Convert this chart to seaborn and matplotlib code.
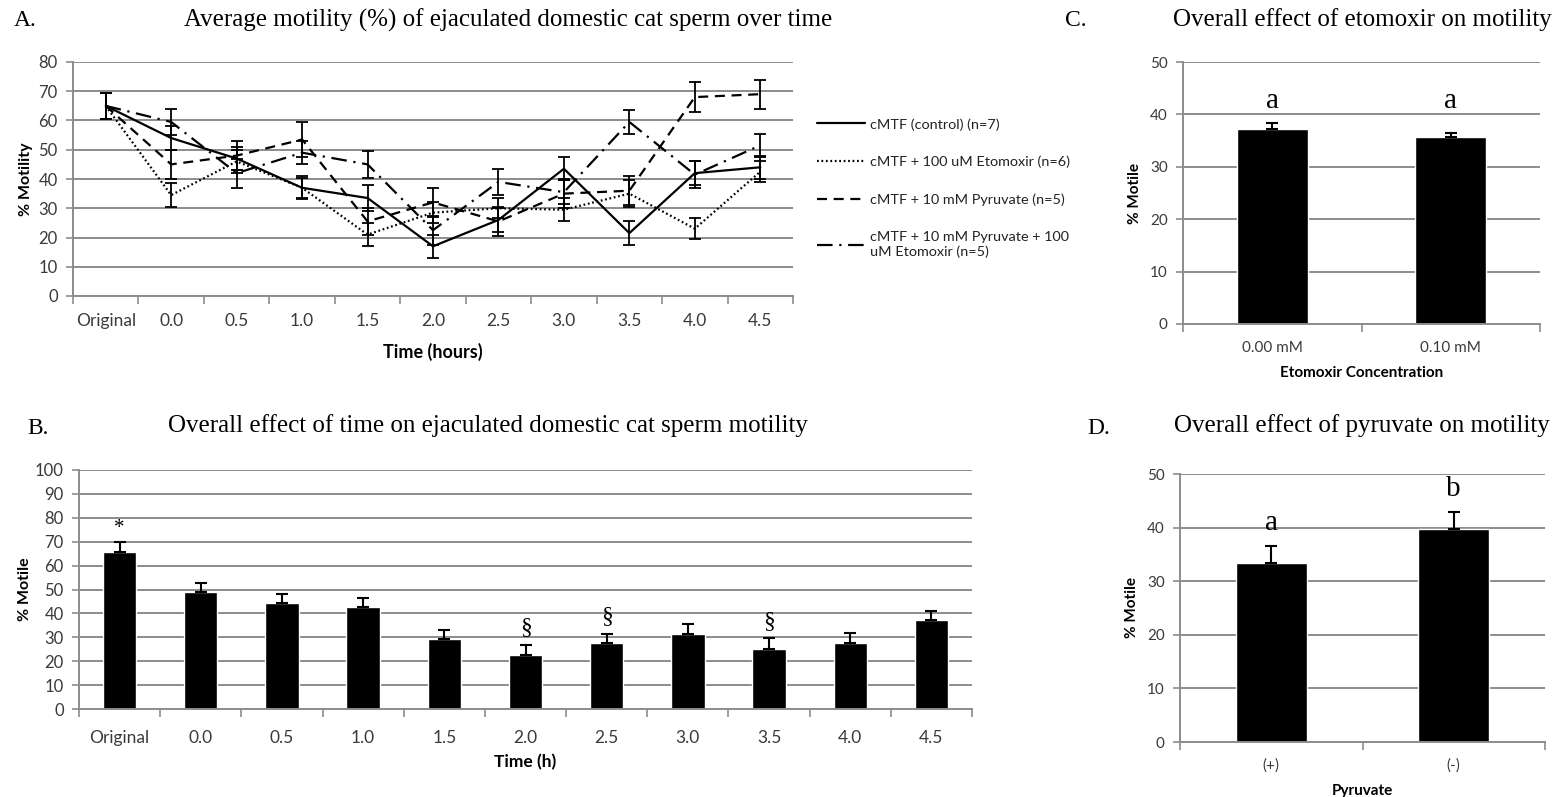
import numpy as np
import pandas as pd
import matplotlib
matplotlib.use("Agg")
import matplotlib.pyplot as plt
import seaborn as sns

# ---------------- data ----------------
time_cats = ["Original", "0.0", "0.5", "1.0", "1.5", "2.0", "2.5", "3.0", "3.5", "4.0", "4.5"]

series_names = ["cMTF (control) (n=7)",
                "cMTF + 100 uM Etomoxir (n=6)",
                "cMTF + 10 mM Pyruvate (n=5)",
                "cMTF + 10 mM Pyruvate + 100\nuM Etomoxir (n=5)"]
control_vals = [65, 54, 47, 37, 33.5, 17, 26, 43.5, 21.5, 42, 44]
control_err = [4.5, 4, 4, 4, 4.5, 4, 4, 4, 4, 4, 4]
eto_vals = [65, 34.5, 46, 37, 21, 28.5, 30, 29.5, 35, 23, 42.5]
eto_err = [4.5, 4, 4, 3.5, 4, 3.5, 3.5, 4, 4.5, 3.5, 3.5]
pyr_vals = [65, 45, 48, 53.5, 25.5, 32, 25.5, 35, 36, 68, 69]
pyr_err = [4.5, 5, 5, 6, 4.5, 5, 5, 5, 5, 5, 5]
pyreto_vals = [65, 59.5, 42, 49, 45, 22.5, 39, 35.5, 59.5, 41.5, 51.5]
pyreto_err = [4.5, 4.5, 5, 4, 4.5, 5, 4.5, 4, 4, 4.5, 4]

overall_time_vals = [65.7, 49, 44.3, 42.6, 29.2, 22.7, 27.6, 31.5, 25.2, 27.6, 37.3]
overall_time_err = [4.2, 3.9, 3.9, 4.0, 3.9, 4.2, 3.9, 4.0, 4.5, 4.4, 3.9]
time_marks = ["*", "", "", "", "", "§", "§", "", "§", "", ""]

eto_cats = ["0.00 mM", "0.10 mM"]
eto_overall_vals = [37.3, 35.6]
eto_overall_err = [1.0, 0.9]
eto_letters = ["a", "a"]

pyr_cats = ["(+)", "(-)"]
pyr_overall_vals = [33.4, 39.7]
pyr_overall_err = [3.2, 3.3]
pyr_letters = ["a", "b"]

# ---------------- style ----------------
sns.set_theme(style="white")
SANS = ["Lato", "DejaVu Sans"]
SERIF = ["Liberation Serif", "DejaVu Serif"]
plt.rcParams["font.family"] = SANS
GRID = "#8c8c8c"
TICKC = "#3a3a3a"

fig = plt.figure(figsize=(15.58, 7.97), dpi=100)
W, H = 1558, 797


def axes_px(left, top, right, bottom):
    return fig.add_axes([left / W, 1 - bottom / H, (right - left) / W, (bottom - top) / H])


def style_axes(ax, ymax, ystep, ncat, tickfs=11, ytickfs=None):
    ax.set_ylim(0, ymax)
    ax.set_xlim(-0.5, ncat - 0.5)
    ax.set_yticks(np.arange(0, ymax + 0.1, ystep))
    ax.yaxis.grid(True, color=GRID, linewidth=1.4)
    ax.xaxis.grid(False)
    ax.set_axisbelow(True)
    for s in ["top", "right"]:
        ax.spines[s].set_visible(False)
    for s in ["left", "bottom"]:
        ax.spines[s].set_color(GRID)
        ax.spines[s].set_linewidth(1.4)
    ax.set_xticks(np.arange(ncat))
    ax.set_xticks(np.arange(-0.5, ncat, 1.0), minor=True)
    ax.tick_params(axis="x", which="major", length=0, pad=14, labelsize=tickfs, labelcolor=TICKC)
    ax.tick_params(axis="x", which="minor", length=6, width=1.2, color=GRID, direction="out", bottom=True)
    ax.tick_params(axis="y", which="major", length=5, width=1.2, color=GRID, direction="out",
                   left=True, pad=6, labelsize=ytickfs or tickfs, labelcolor=TICKC)
    ax.set_facecolor("white")


# ---------------- Panel A ----------------
axA = axes_px(73, 62, 793, 296)
xpos = np.arange(len(time_cats))
rows = []
all_vals = [control_vals, eto_vals, pyr_vals, pyreto_vals]
all_errs = [control_err, eto_err, pyr_err, pyreto_err]
for name, vals in zip(series_names, all_vals):
    for i, v in enumerate(vals):
        rows.append({"x": i, "y": v, "series": name})
dfA = pd.DataFrame(rows)
dash_map = {series_names[0]: "",
            series_names[1]: (0.8, 1.2),
            series_names[2]: (4.5, 3.0),
            series_names[3]: (7, 3, 1, 3)}
sns.lineplot(data=dfA, x="x", y="y", hue="series", style="series",
             palette={n: "black" for n in series_names}, dashes=dash_map,
             linewidth=1.6, ax=axA, legend=False, sort=False)
for vals, errs in zip(all_vals, all_errs):
    axA.errorbar(xpos, vals, yerr=errs, fmt="none", ecolor="black",
                 elinewidth=1.3, capsize=4, capthick=1.3)
style_axes(axA, 80, 10, len(time_cats), tickfs=12.5, ytickfs=12)
axA.tick_params(axis="x", which="major", pad=12)
axA.set_xticklabels(time_cats)
axA.set_xlabel("Time (hours)", fontsize=13, fontweight="bold", labelpad=10, color="black")
axA.set_ylabel("% Motility", fontsize=11.5, fontweight="bold", labelpad=4, color="black")

# legend for A
handles = [l for l in axA.get_lines()[:4]]
leg = fig.legend(handles, series_names, loc="upper left",
                 bbox_to_anchor=(804 / W, 1 - 105 / H), frameon=False,
                 fontsize=10.4, handlelength=3.3, handletextpad=0.4, labelspacing=1.75)
for t in leg.get_texts():
    t.set_color("#222222")

# ---------------- Panel B ----------------
axB = axes_px(79, 470, 972, 709)
sns.barplot(x=time_cats, y=overall_time_vals, order=time_cats, color="black",
            width=0.41, errorbar=None, ax=axB, saturation=1)
axB.errorbar(np.arange(len(time_cats)), overall_time_vals,
             yerr=[np.zeros(len(time_cats)), overall_time_err], fmt="none",
             ecolor="black", elinewidth=1.5, capsize=4, capthick=1.5)
style_axes(axB, 100, 10, len(time_cats), tickfs=12.5, ytickfs=12)
axB.tick_params(axis="x", which="major", pad=15)
axB.set_xlabel("Time (h)", fontsize=12.5, fontweight="bold", labelpad=6, color="black")
axB.set_ylabel("% Motile", fontsize=11.5, fontweight="bold", labelpad=2, color="black")
for i, m in enumerate(time_marks):
    if m:
        top = overall_time_vals[i] + overall_time_err[i]
        off = 5.5 if m == "*" else 7
        axB.text(i, top + off, m, ha="center", va="center", fontsize=17 if m == "§" else 15,
                 family=SERIF, color="black")

# ---------------- Panel C ----------------
axC = axes_px(1183, 62, 1540, 324)
sns.barplot(x=eto_cats, y=eto_overall_vals, order=eto_cats, color="black",
            width=0.4, errorbar=None, ax=axC, saturation=1)
axC.errorbar(np.arange(2), eto_overall_vals, yerr=[np.zeros(2), eto_overall_err],
             fmt="none", ecolor="black", elinewidth=1.5, capsize=4, capthick=1.5)
style_axes(axC, 50, 10, 2, tickfs=11, ytickfs=11)
axC.tick_params(axis="x", which="major", pad=12)
axC.set_xlabel("Etomoxir Concentration", fontsize=11, fontweight="bold", labelpad=8, color="black")
axC.set_ylabel("% Motile", fontsize=11, fontweight="bold", labelpad=6, color="black")
for i, l in enumerate(eto_letters):
    axC.text(i, 42.6, l, ha="center", va="center", fontsize=21, family=SERIF, color="black")

# ---------------- Panel D ----------------
axD = axes_px(1180, 474, 1545, 742)
sns.barplot(x=pyr_cats, y=pyr_overall_vals, order=pyr_cats, color="black",
            width=0.39, errorbar=None, ax=axD, saturation=1)
axD.errorbar(np.arange(2), pyr_overall_vals, yerr=[np.zeros(2), pyr_overall_err],
             fmt="none", ecolor="black", elinewidth=1.5, capsize=4, capthick=1.5)
style_axes(axD, 50, 10, 2, tickfs=11, ytickfs=11)
axD.tick_params(axis="x", which="major", pad=12)
axD.set_xlabel("Pyruvate", fontsize=11, fontweight="bold", labelpad=8, color="black")
axD.set_ylabel("% Motile", fontsize=11, fontweight="bold", labelpad=6, color="black")
for i, l in enumerate(pyr_letters):
    top = pyr_overall_vals[i] + pyr_overall_err[i]
    axD.text(i, top + 4.2, l, ha="center", va="center", fontsize=21, family=SERIF, color="black")

# ---------------- titles ----------------
def ftext(x, y, s, **kw):
    fig.text(x / W, 1 - y / H, s, family=SERIF, color="black", va="center", **kw)

ftext(14, 20, "A.", fontsize=17, ha="left")
ftext(508, 20, "Average motility (%) of ejaculated domestic cat sperm over time", fontsize=18, ha="center")
ftext(27, 428, "B.", fontsize=17, ha="left")
ftext(488, 426, "Overall effect of time on ejaculated domestic cat sperm motility", fontsize=18, ha="center")
ftext(1065, 20, "C.", fontsize=17, ha="left")
ftext(1362, 20, "Overall effect of etomoxir on motility", fontsize=18, ha="center")
ftext(1087, 428, "D.", fontsize=17, ha="left")
ftext(1362, 426, "Overall effect of pyruvate on motility", fontsize=18, ha="center")

fig.savefig("out.png", dpi=100, facecolor="white")
